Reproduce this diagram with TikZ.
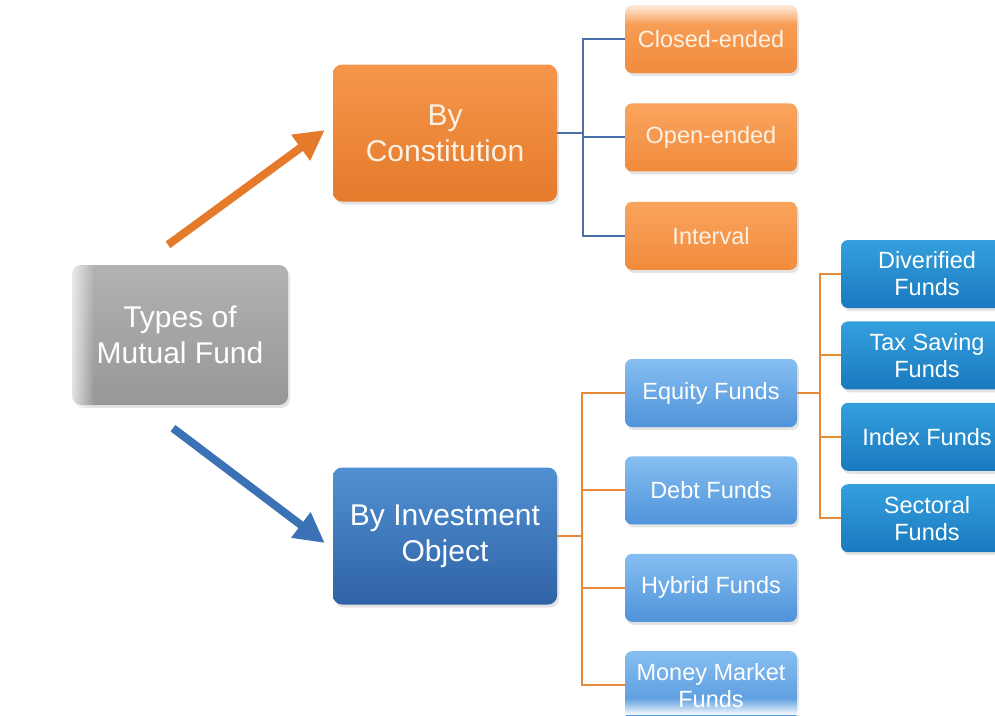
\documentclass[tikz,border=0pt]{standalone}
\usepackage{fontspec}
\setmainfont{Liberation Sans}
\usetikzlibrary{arrows.meta, positioning, shadows, fadings}

\definecolor{rootTop}{HTML}{B2B2B2}
\definecolor{rootBot}{HTML}{979797}
\definecolor{orTop}{HTML}{F6964A}
\definecolor{orBot}{HTML}{E57A2B}
\definecolor{orLiteTop}{HTML}{FAA45E}
\definecolor{orLiteBot}{HTML}{F18B3C}
\definecolor{blTop}{HTML}{5190D2}
\definecolor{blBot}{HTML}{2F63A6}
\definecolor{skyTop}{HTML}{86BEF1}
\definecolor{skyBot}{HTML}{4F93DA}
\definecolor{cyTop}{HTML}{34A0DD}
\definecolor{cyBot}{HTML}{1A79BF}
\definecolor{lnBlue}{HTML}{4A72A8}
\definecolor{lnOrange}{HTML}{E8893A}
\definecolor{arBlue}{HTML}{3B71B5}
\definecolor{creamText}{HTML}{FBF1E4}

\tikzfading[name=topfade, top color=transparent!0, bottom color=transparent!100]
\tikzfading[name=bottomfade, top color=transparent!100, bottom color=transparent!0]
\tikzfading[name=leftfade, left color=transparent!0, right color=transparent!100]

\begin{document}
\begin{tikzpicture}[
    x=1pt, y=1pt,
    node distance=30pt,
    box/.style={
        rounded corners=9pt,
        align=center,
        text=white,
        inner sep=2pt,
        drop shadow={shadow xshift=2pt, shadow yshift=-3pt, opacity=0.22}
    },
    bigbox/.style={
        box,
        minimum width=224pt,
        minimum height=137pt,
        font=\fontsize{30}{36}\selectfont
    },
    smallbox/.style={
        box,
        rounded corners=7pt,
        minimum width=172pt,
        minimum height=68pt,
        font=\fontsize{23.5}{27}\selectfont
    },
    rootbox/.style={bigbox, minimum width=216pt, minimum height=140pt, top color=rootTop, bottom color=rootBot},
    constbox/.style={bigbox, text=creamText, top color=orTop, bottom color=orBot},
    investbox/.style={bigbox, top color=blTop, bottom color=blBot},
    closedbox/.style={smallbox, text=creamText, top color=orLiteTop, bottom color=orLiteBot},
    assetbox/.style={smallbox, top color=skyTop, bottom color=skyBot},
    equitybox/.style={smallbox, top color=cyTop, bottom color=cyBot},
    bline/.style={draw=lnBlue, line width=2pt},
    oline/.style={draw=lnOrange, line width=2pt},
    orarrow/.style={draw=orBot, line width=8pt, -{Triangle[length=30pt, width=30pt]}},
    blarrow/.style={draw=arBlue, line width=8pt, -{Triangle[length=30pt, width=30pt]}}
]
\useasboundingbox (0,0) rectangle (995,-715);

% Root and the two ways of classifying
\node[rootbox] (root) at (180,-335) {Types of\\Mutual Fund};
\node[constbox] (constit) at (445,-133) {By\\Constitution};
\node[investbox] (invest) at (445,-536) {By Investment\\Object};

% By constitution
\node[closedbox] (closed) at (711,-39) {Closed-ended};
\node[closedbox, below=of closed] (open) {Open-ended};
\node[closedbox, below=of open] (interval) {Interval};

% By investment object
\node[assetbox] (equity) at (711,-393) {Equity Funds};
\node[assetbox, below=29pt of equity] (debt) {Debt Funds};
\node[assetbox, below=29pt of debt] (hybrid) {Hybrid Funds};
\node[assetbox, below=29pt of hybrid] (money) {Money Market\\Funds};

% Kinds of equity funds
\node[equitybox] (divers) at (927,-274) {Diverified\\Funds};
\node[equitybox, below=13pt of divers] (tax) {Tax Saving\\Funds};
\node[equitybox, below=13pt of tax] (index) {Index Funds};
\node[equitybox, below=13pt of index] (sector) {Sectoral\\Funds};

% Arrows from the root
\draw[orarrow] ([xshift=-12pt, yshift=20pt]root.north) -- ([xshift=-8pt, yshift=3pt]constit.west);
\draw[blarrow] ([xshift=-7pt, yshift=-23pt]root.south) -- ([xshift=-8pt, yshift=-7pt]invest.west);

% Elbow connectors
\draw[bline] (constit.east) -- ++(26,0) coordinate (cbus);
\foreach \n in {closed, open, interval}
    \draw[bline] (cbus) |- (\n.west);

\draw[oline] (invest.east) -- ++(25,0) coordinate (ibus);
\foreach \n in {equity, debt, hybrid, money}
    \draw[oline] (ibus) |- (\n.west);

\draw[oline] (equity.east) -- ++(23,0) coordinate (ebus);
\foreach \n in {divers, tax, index, sector}
    \draw[oline] (ebus) |- (\n.west);

% Soft edges
\fill[white, path fading=topfade] (600,0) rectangle (830,-24);
\fill[white, path fading=bottomfade] (600,-698) rectangle (830,-715);
\fill[white, path fading=leftfade] (64,-255) rectangle (94,-415);

\end{tikzpicture}
\end{document}
